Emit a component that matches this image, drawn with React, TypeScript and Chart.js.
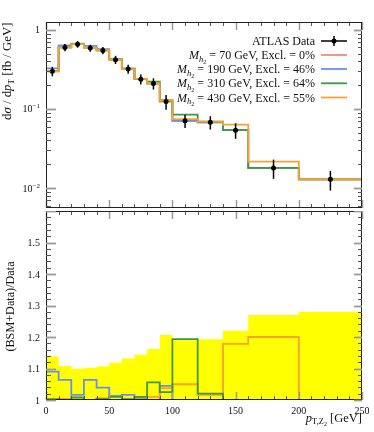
import React, { useEffect, useRef } from "react";
import { Chart, registerables } from "chart.js";
Chart.register(...registerables);

// ---------- data ----------
const binEdges = [0, 10, 20, 30, 40, 50, 60, 70, 80, 90, 100, 120, 140, 160, 200, 250];
const dataValues = [0.30, 0.60, 0.66, 0.59, 0.55, 0.42, 0.32, 0.238, 0.21, 0.124, 0.071, 0.068, 0.054, 0.018, 0.0129];
const dataErrors = [0.041, 0.065, 0.065, 0.060, 0.058, 0.050, 0.042, 0.034, 0.034, 0.026, 0.0135, 0.013, 0.012, 0.0049, 0.0036];

const predM70 = [0.30, 0.602, 0.66, 0.59, 0.552, 0.42, 0.32, 0.238, 0.21, 0.124, 0.071, 0.068, 0.054, 0.018, 0.0129];
const predM190 = [0.327, 0.638, 0.671, 0.628, 0.571, 0.425, 0.325, 0.239, 0.21, 0.130, 0.071, 0.068, 0.054, 0.018, 0.0129];
const predM310 = [0.301, 0.60, 0.665, 0.59, 0.552, 0.424, 0.321, 0.240, 0.222, 0.127, 0.0847, 0.0694, 0.054, 0.018, 0.0129];
const predM430 = [0.30, 0.602, 0.66, 0.59, 0.553, 0.42, 0.32, 0.240, 0.212, 0.129, 0.0746, 0.0691, 0.0636, 0.0216, 0.0129];

const ratioM70 = [1.0, 1.003, 1.0, 1.0, 1.004, 1.0, 1.0, 1.0, 1.0, 1.0, 1.0, 1.0, 1.0, 1.0, 1.0];
const ratioM190 = [1.09, 1.064, 1.016, 1.064, 1.039, 1.013, 1.016, 1.005, 1.0, 1.045, 1.0, 1.0, 1.0, 1.0, 1.0];
const ratioM310 = [1.003, 1.0, 1.008, 1.0, 1.003, 1.01, 1.003, 1.01, 1.056, 1.025, 1.193, 1.02, 1.0, 1.0, 1.0];
const ratioM430 = [1.0, 1.003, 1.0, 1.0, 1.005, 1.0, 1.0, 1.008, 1.01, 1.038, 1.05, 1.016, 1.178, 1.2, 1.0];
const bandValues = [1.138, 1.108, 1.099, 1.102, 1.106, 1.118, 1.132, 1.144, 1.162, 1.206, 1.19, 1.193, 1.22, 1.27, 1.28];

const massLabels = ["70", "190", "310", "430"];
const exclLabels = ["0%", "46%", "64%", "55%"];
const xTickLabels = [0, 50, 100, 150, 200, 250];
const ratioTickLabels = [1, 1.1, 1.2, 1.3, 1.4, 1.5];
const logTickLabels = [0, -1, -2];

const COLORS = ["#f28b78", "#6a8ef0", "#3c9a3c", "#f9a231"];
const FONT = '"Liberation Serif", "DejaVu Serif", serif';

// ---------- helpers ----------
type Part = { t: string; f: string; dy?: number };

function drawRich(ctx: CanvasRenderingContext2D, parts: Part[], x: number, y: number, align: string) {
  let w = 0;
  parts.forEach((p) => { ctx.font = p.f; w += ctx.measureText(p.t).width; });
  let cx = align === "right" ? x - w : align === "center" ? x - w / 2 : x;
  ctx.textAlign = "left";
  ctx.textBaseline = "alphabetic";
  parts.forEach((p) => {
    ctx.font = p.f;
    ctx.fillText(p.t, cx, y + (p.dy || 0));
    cx += ctx.measureText(p.t).width;
  });
}

function seg(ctx: CanvasRenderingContext2D, x1: number, y1: number, x2: number, y2: number) {
  ctx.beginPath(); ctx.moveTo(x1, y1); ctx.lineTo(x2, y2); ctx.stroke();
}

function drawFrameAndXTicks(ctx: CanvasRenderingContext2D, chart: any) {
  const a = chart.chartArea;
  const xs = chart.scales.x;
  for (let v = 0; v <= 250; v += 10) {
    const major = v % 50 === 0;
    const x = Math.round(xs.getPixelForValue(v)) + 0.5;
    ctx.strokeStyle = major ? "#9a9a9a" : "#555";
    ctx.lineWidth = major ? 1.5 : 1;
    const len = major ? 8 : 4;
    seg(ctx, x, a.top, x, a.top + len);
    seg(ctx, x, a.bottom, x, a.bottom - len);
  }
  ctx.strokeStyle = "#222";
  ctx.lineWidth = 1;
  ctx.strokeRect(Math.round(a.left) + 0.5, Math.round(a.top) + 0.5, Math.round(a.right - a.left) - 1, Math.round(a.bottom - a.top) - 1);
}

function drawYTick(ctx: CanvasRenderingContext2D, a: any, y: number, major: boolean) {
  const yy = Math.round(y) + 0.5;
  ctx.strokeStyle = major ? "#9a9a9a" : "#555";
  ctx.lineWidth = major ? 1.8 : 1;
  seg(ctx, a.left, yy, a.left + (major ? 10 : 5), yy);
  seg(ctx, a.right, yy, a.right - (major ? 8 : 4), yy);
}

const histPoints = (vals: number[]) => [
  ...binEdges.slice(0, -1).map((e, i) => ({ x: e, y: vals[i] })),
  { x: binEdges[binEdges.length - 1], y: vals[vals.length - 1] },
];

const histLine = (vals: number[], color: string, order: number) => ({
  type: "line",
  data: histPoints(vals),
  borderColor: color,
  borderWidth: 1.8,
  pointRadius: 0,
  stepped: "before",
  fill: false,
  order,
});

// ---------- plugins ----------
const topPlugin = {
  id: "topDecor",
  afterDatasetsDraw(chart: any) {
    const ctx = chart.ctx as CanvasRenderingContext2D;
    const xs = chart.scales.x, ys = chart.scales.y;
    ctx.save();
    ctx.strokeStyle = "#000";
    ctx.lineWidth = 1.5;
    dataValues.forEach((v, i) => {
      const x = xs.getPixelForValue((binEdges[i] + binEdges[i + 1]) / 2);
      seg(ctx, x, ys.getPixelForValue(v - dataErrors[i]), x, ys.getPixelForValue(v + dataErrors[i]));
    });
    ctx.restore();
  },
  afterDraw(chart: any) {
    const ctx = chart.ctx as CanvasRenderingContext2D;
    const a = chart.chartArea;
    const ys = chart.scales.y;
    ctx.save();
    drawFrameAndXTicks(ctx, chart);
    for (let d = -3; d <= 0; d++) {
      for (let m = 1; m <= 9; m++) {
        const v = m * Math.pow(10, d);
        if (v < ys.min || v > ys.max) continue;
        drawYTick(ctx, a, ys.getPixelForValue(v), m === 1);
      }
    }
    ctx.fillStyle = "#111";
    logTickLabels.forEach((d) => {
      const y = ys.getPixelForValue(Math.pow(10, d));
      if (d === 0) {
        drawRich(ctx, [{ t: "1", f: `10px ${FONT}` }], 40, y + 3.5, "right");
      } else {
        drawRich(ctx, [{ t: "10", f: `10px ${FONT}` }, { t: "\u2212" + String(-d), f: `7px ${FONT}`, dy: -4 }], 40, y + 3.5, "right");
      }
    });
    // y title
    ctx.save();
    ctx.translate(11, 22.5);
    ctx.rotate(-Math.PI / 2);
    drawRich(ctx, [
      { t: "d", f: `12.8px ${FONT}` },
      { t: "\u03c3", f: `italic 12.8px ${FONT}` },
      { t: " / d", f: `12.8px ${FONT}` },
      { t: "p", f: `italic 12.8px ${FONT}` },
      { t: "T", f: `9px ${FONT}`, dy: 2.5 },
      { t: " [fb / GeV]", f: `12.8px ${FONT}` },
    ], 0, 0, "right");
    ctx.restore();
    // legend
    const xr = 315, lx1 = 321, lx2 = 347;
    const rows = [41, 55, 69, 83.3, 97.5];
    drawRich(ctx, [{ t: "ATLAS Data", f: `12px ${FONT}` }], xr, rows[0] + 4, "right");
    ctx.strokeStyle = "#000";
    ctx.lineWidth = 1.5;
    seg(ctx, lx1, rows[0], lx2, rows[0]);
    seg(ctx, 334, rows[0] - 5, 334, rows[0] + 5);
    ctx.fillStyle = "#000";
    ctx.beginPath(); ctx.arc(334, rows[0], 2.5, 0, Math.PI * 2); ctx.fill();
    massLabels.forEach((m, i) => {
      const y = rows[i + 1];
      ctx.fillStyle = "#111";
      drawRich(ctx, [
        { t: "M", f: `italic 12px ${FONT}` },
        { t: "h", f: `italic 8.5px ${FONT}`, dy: 2.5 },
        { t: "2", f: `6px ${FONT}`, dy: 4.5 },
        { t: ` = ${m} GeV, Excl. = ${exclLabels[i]}`, f: `12px ${FONT}` },
      ], xr, y + 4, "right");
      ctx.strokeStyle = COLORS[i];
      ctx.lineWidth = 1.8;
      seg(ctx, lx1, y, lx2, y);
    });
    ctx.restore();
  },
};

const bottomPlugin = {
  id: "bottomDecor",
  afterDraw(chart: any) {
    const ctx = chart.ctx as CanvasRenderingContext2D;
    const a = chart.chartArea;
    const xs = chart.scales.x, ys = chart.scales.y;
    ctx.save();
    drawFrameAndXTicks(ctx, chart);
    for (let k = 0; k <= 30; k++) {
      const v = 1 + k * 0.02;
      drawYTick(ctx, a, ys.getPixelForValue(v), k % 5 === 0);
    }
    ctx.fillStyle = "#111";
    ratioTickLabels.forEach((v) => {
      drawRich(ctx, [{ t: String(v), f: `10px ${FONT}` }], 40, ys.getPixelForValue(v) + 3.5, "right");
    });
    xTickLabels.forEach((v) => {
      drawRich(ctx, [{ t: String(v), f: `10px ${FONT}` }], xs.getPixelForValue(v), a.bottom + 13.5, "center");
    });
    // x title
    drawRich(ctx, [
      { t: "p", f: `italic 12.5px ${FONT}` },
      { t: "T,Z", f: `8.5px ${FONT}`, dy: 2.5 },
      { t: "2", f: `6px ${FONT}`, dy: 4.5 },
      { t: " [GeV]", f: `12.5px ${FONT}` },
    ], a.right, a.bottom + 21.5, "right");
    // y title
    ctx.save();
    ctx.translate(14, (a.top + a.bottom) / 2 + 1);
    ctx.rotate(-Math.PI / 2);
    drawRich(ctx, [{ t: "(BSM+Data)/Data", f: `12.2px ${FONT}` }], 0, 0, "center");
    ctx.restore();
    ctx.restore();
  },
};

// ---------- component ----------
export default function App() {
  const topRef = useRef<HTMLCanvasElement | null>(null);
  const botRef = useRef<HTMLCanvasElement | null>(null);

  useEffect(() => {
    const common = {
      responsive: false,
      animation: false,
      events: [],
      plugins: { legend: { display: false }, tooltip: { enabled: false }, title: { display: false } },
    };
    const top = new Chart(topRef.current as HTMLCanvasElement, {
      type: "line",
      data: {
        datasets: [
          {
            type: "scatter",
            data: dataValues.map((v, i) => ({ x: (binEdges[i] + binEdges[i + 1]) / 2, y: v })),
            pointRadius: 2.5,
            pointBackgroundColor: "#000",
            pointBorderWidth: 0,
            showLine: false,
            order: 0,
          },
          histLine(predM430, COLORS[3], 1),
          histLine(predM310, COLORS[2], 2),
          histLine(predM190, COLORS[1], 3),
          histLine(predM70, COLORS[0], 4),
        ] as any,
      },
      options: {
        ...common,
        layout: { padding: { left: 46, right: 12, top: 22, bottom: 1 } },
        scales: {
          x: { type: "linear", min: 0, max: 250, display: false },
          y: { type: "logarithmic", min: 0.0056, max: 1.258, display: false },
        },
      } as any,
      plugins: [topPlugin],
    });
    const bot = new Chart(botRef.current as HTMLCanvasElement, {
      type: "line",
      data: {
        datasets: [
          histLine(ratioM310, COLORS[2], 1),
          histLine(ratioM430, COLORS[3], 2),
          histLine(ratioM190, COLORS[1], 3),
          histLine(ratioM70, COLORS[0], 4),
          {
            type: "line",
            data: histPoints(bandValues),
            borderWidth: 0,
            borderColor: "rgba(0,0,0,0)",
            backgroundColor: "#ffff00",
            pointRadius: 0,
            stepped: "before",
            fill: "start",
            order: 10,
          },
        ] as any,
      },
      options: {
        ...common,
        layout: { padding: { left: 46, right: 12, top: 0, bottom: 32 } },
        scales: {
          x: { type: "linear", min: 0, max: 250, display: false },
          y: { type: "linear", min: 1, max: 1.6, display: false },
        },
      } as any,
      plugins: [bottomPlugin],
    });
    return () => { top.destroy(); bot.destroy(); };
  }, []);

  return (
    <div style={{ position: "absolute", left: 0, top: 0, width: 374, height: 432, background: "#fff" }}>
      <canvas ref={topRef} width={374} height={212} style={{ position: "absolute", left: 0, top: 0 }} />
      <canvas ref={botRef} width={374} height={221} style={{ position: "absolute", left: 0, top: 211 }} />
    </div>
  );
}
